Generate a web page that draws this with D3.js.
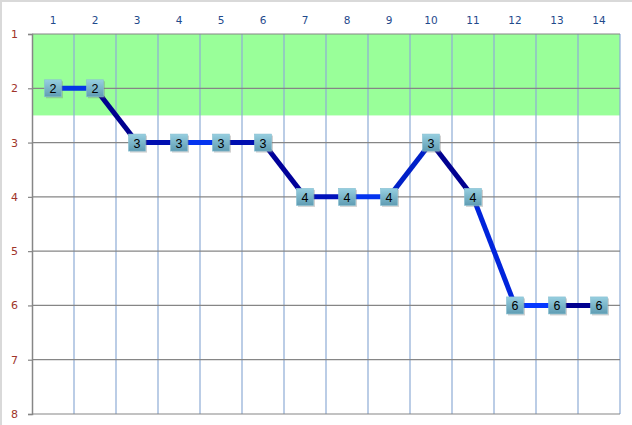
<!DOCTYPE html>
<html>
<head>
<meta charset="utf-8">
<script src="https://cdn.jsdelivr.net/npm/d3@7"></script>
<style>
  html, body { margin: 0; padding: 0; background: #fff; }
  svg { display: block; }
</style>
</head>
<body>
<svg id="svg" width="632" height="425"></svg>
<script>
// data
const positions = [1, 2, 3, 4, 5, 6, 7, 8, 9, 10, 11, 12, 13, 14];
const ranks = [2, 2, 3, 3, 3, 3, 4, 4, 4, 3, 4, 6, 6, 6];
const yTicks = [1, 2, 3, 4, 5, 6, 7, 8];
const greenBand = [1, 2.5];
// one colour per segment (point i -> i+1)
const segColors = ["#0536e6", "#00008f", "#000fb0", "#0434ef", "#000fb0", "#00009a",
                   "#0012bb", "#0434ef", "#0020c8", "#000090", "#0024dc", "#0638ff", "#00008f"];

const W = 632, H = 425;
const plotL = 32, plotR = 620, plotT = 34, plotB = 414;

const svg = d3.select("#svg");

// thin frame on the picture's left and top edge
svg.append("path")
  .attr("d", `M1,${H}V1H${W}`)
  .attr("fill", "none")
  .attr("stroke", "#d9d9d9")
  .attr("stroke-width", 2);

const x = d3.scaleBand().domain(positions).range([plotL, plotR]);
const y = d3.scaleLinear().domain([1, 8]).range([plotT, plotB]);

// green zone
svg.append("rect")
  .attr("x", plotL)
  .attr("y", y(greenBand[0]))
  .attr("width", plotR - plotL)
  .attr("height", y(greenBand[1]) - y(greenBand[0]))
  .attr("fill", "#99ff99");

// vertical grid lines at category borders
svg.append("g")
  .selectAll("line")
  .data(positions)
  .join("line")
  .attr("x1", d => x(d) + x.bandwidth())
  .attr("x2", d => x(d) + x.bandwidth())
  .attr("y1", plotT)
  .attr("y2", plotB)
  .attr("stroke", "#8eacd6")
  .attr("stroke-width", 1.2);

// horizontal grid lines
svg.append("g")
  .selectAll("line")
  .data(yTicks)
  .join("line")
  .attr("x1", plotL)
  .attr("x2", plotR)
  .attr("y1", d => y(d))
  .attr("y2", d => y(d))
  .attr("stroke", "#868686")
  .attr("stroke-width", 1.2);

// left axis
const leftAxis = d3.axisLeft(y).tickValues(yTicks).tickSize(4).tickPadding(10).tickFormat(d3.format("d"));
const ga = svg.append("g")
  .attr("transform", `translate(${plotL},0)`)
  .call(leftAxis);
ga.select(".domain").attr("stroke", "#868686").attr("stroke-width", 1.5);
ga.selectAll(".tick line").attr("stroke", "#868686").attr("stroke-width", 1.2);
ga.selectAll(".tick text")
  .attr("fill", "#a0342a")
  .attr("font-family", "DejaVu Sans, Verdana, sans-serif")
  .attr("font-size", 11);

// top category labels
const topAxis = d3.axisTop(x).tickSize(0).tickPadding(10);
const gt = svg.append("g")
  .attr("transform", `translate(0,${plotT})`)
  .call(topAxis);
gt.select(".domain").remove();
gt.selectAll(".tick text")
  .attr("fill", "#1f4a8c")
  .attr("font-family", "DejaVu Sans, Verdana, sans-serif")
  .attr("font-size", 10.5);

// line segments, each in its own colour
const cx = i => x(positions[i]) + x.bandwidth() / 2;
const segs = d3.range(ranks.length - 1);
svg.append("g")
  .selectAll("line")
  .data(segs)
  .join("line")
  .attr("x1", i => cx(i))
  .attr("y1", i => y(ranks[i]))
  .attr("x2", i => cx(i + 1))
  .attr("y2", i => y(ranks[i + 1]))
  .attr("stroke", i => segColors[i])
  .attr("stroke-width", 5);

// marker gradient + shadow
const defs = svg.append("defs");
const grad = defs.append("linearGradient")
  .attr("id", "mk").attr("x1", 0).attr("y1", 0).attr("x2", 0).attr("y2", 1);
grad.append("stop").attr("offset", "0%").attr("stop-color", "#97cfe0");
grad.append("stop").attr("offset", "100%").attr("stop-color", "#5f9cb3");

const ms = 17;
const marks = svg.append("g")
  .selectAll("g")
  .data(ranks)
  .join("g")
  .attr("transform", (d, i) => `translate(${cx(i)},${y(d)})`);

marks.append("rect")
  .attr("x", -ms / 2 + 1.5)
  .attr("y", -ms / 2 + 1.5)
  .attr("width", ms)
  .attr("height", ms)
  .attr("fill", "#7a7a7a")
  .attr("opacity", 0.35);

marks.append("rect")
  .attr("x", -ms / 2)
  .attr("y", -ms / 2)
  .attr("width", ms)
  .attr("height", ms)
  .attr("fill", "url(#mk)")
  .attr("stroke", "#86bfd1")
  .attr("stroke-width", 0.6);

marks.append("text")
  .attr("text-anchor", "middle")
  .attr("dy", "0.36em")
  .attr("y", 0.5)
  .attr("font-family", "Liberation Sans, Arial, sans-serif")
  .attr("font-size", 12.5)
  .attr("fill", "#000")
  .text(d => d);
</script>
</body>
</html>
